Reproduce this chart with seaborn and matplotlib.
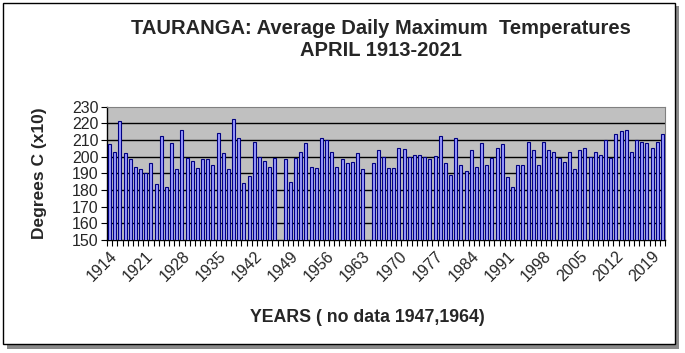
import numpy as np
import pandas as pd
import matplotlib
matplotlib.use("Agg")
import matplotlib.pyplot as plt
import seaborn as sns
from matplotlib.patches import Rectangle

years = list(range(1914, 2022))
temps = [
    207.4, 203.0, 221.4, 202.0, 198.4, 194.0, 192.4, 190.0, 196.4, 183.4,  # 1914-1923
    212.4, 182.0, 208.4, 192.4, 216.0, 199.2, 197.2, 193.0, 198.4, 198.4,  # 1924-1933
    195.0, 214.4, 202.0, 192.4, 222.4, 211.0, 184.4, 188.4, 209.0, 200.0,  # 1934-1943
    197.4, 194.0, 199.0, np.nan, 198.4, 185.0, 199.4, 203.0, 208.4, 194.0,  # 1944-1953
    193.0, 211.0, 210.0, 203.0, 194.0, 198.4, 196.4, 197.0, 202.0, 192.4,  # 1954-1963
    np.nan, 196.4, 204.0, 200.0, 193.0, 193.0, 205.0, 204.4, 200.0, 200.8,  # 1964-1973
    200.8, 200.0, 198.4, 200.4, 212.4, 196.4, 189.0, 211.0, 195.0, 191.4,  # 1974-1983
    204.0, 194.0, 208.4, 195.0, 199.0, 205.0, 207.4, 188.0, 182.0, 195.0,  # 1984-1993
    195.0, 208.6, 204.0, 195.0, 208.6, 204.0, 203.0, 199.0, 197.0, 203.0,  # 1994-2003
    192.4, 204.0, 205.0, 200.0, 203.0, 200.8, 210.0, 199.0, 213.4, 215.2,  # 2004-2013
    215.8, 203.0, 210.0, 208.6, 208.4, 205.0, 208.8, 213.4,                # 2014-2021
]
tick_labels = [str(y) for y in range(1914, 2022, 7)]
y_ticks = list(range(150, 231, 10))

df = pd.DataFrame({"year": [str(y) for y in years], "temp": temps})

sns.set_theme(style="white")
plt.rcParams["font.family"] = ["Liberation Sans", "DejaVu Sans"]

fig = plt.figure(figsize=(6.85, 3.53), dpi=100)
fig.patch.set_facecolor("white")

# outer frame with shadow
fig.patches.append(Rectangle((7 / 685, 1 - 349 / 353), 672 / 685, 343 / 353,
                             transform=fig.transFigure, facecolor="#8a8a8a",
                             edgecolor="none", zorder=0))
fig.patches.append(Rectangle((3 / 685, 1 - 344 / 353), 672 / 685, 341 / 353,
                             transform=fig.transFigure, facecolor="white",
                             edgecolor="black", linewidth=1.0, zorder=1))

ax = fig.add_axes([107 / 685, 1 - 240 / 353, 558 / 685, 133.3 / 353])
ax.set_zorder(2)
ax.set_facecolor("#C0C0C0")

sns.barplot(data=df, x="year", y="temp", order=df["year"].tolist(),
            color="#9999FF", edgecolor="#000080", linewidth=0.8,
            width=0.58, saturation=1, ax=ax, zorder=3)

ax.set_ylim(150, 230)
ax.set_xlim(-0.5, len(years) - 0.5)
ax.set_yticks(y_ticks)
ax.set_yticklabels([str(v) for v in y_ticks], fontsize=11.5)
for v in y_ticks[1:-1]:
    ax.axhline(v, color="black", linewidth=1.0, zorder=1)

major_pos = [years.index(int(t)) for t in tick_labels]
ax.set_xticks(major_pos)
ax.set_xticklabels(tick_labels, rotation=45, ha="right", rotation_mode="anchor",
                   fontsize=11.5)
ax.set_xticks(np.arange(-0.5, len(years), 1), minor=True)
ax.tick_params(axis="x", which="major", length=0, pad=6)
ax.tick_params(axis="x", which="minor", length=4, width=0.8, color="black",
               direction="out", bottom=True)
ax.tick_params(axis="y", length=4, width=0.8, color="black", direction="out",
               left=True, pad=2)

for s in ["left", "bottom"]:
    ax.spines[s].set_color("black")
    ax.spines[s].set_linewidth(1.0)
for s in ["top", "right"]:
    ax.spines[s].set_color("#808080")
    ax.spines[s].set_linewidth(0.8)

ax.set_xlabel("")
ax.set_ylabel("")
fig.text(40 / 685, 1 - 173 / 353, "Degrees C (x10)", rotation=90, ha="center",
         va="center", fontsize=12.5, fontweight="bold")
fig.text(367 / 685, 1 - 318 / 353, "YEARS ( no data 1947,1964)", ha="center",
         va="center", fontsize=12.8, fontweight="bold")
fig.text(381 / 685, 1 - 28 / 353, "TAURANGA: Average Daily Maximum  Temperatures",
         ha="center", va="center", fontsize=14.5, fontweight="bold")
fig.text(381 / 685, 1 - 50 / 353, "APRIL 1913-2021", ha="center", va="center",
         fontsize=14.5, fontweight="bold")

fig.savefig("out.png", dpi=100)
